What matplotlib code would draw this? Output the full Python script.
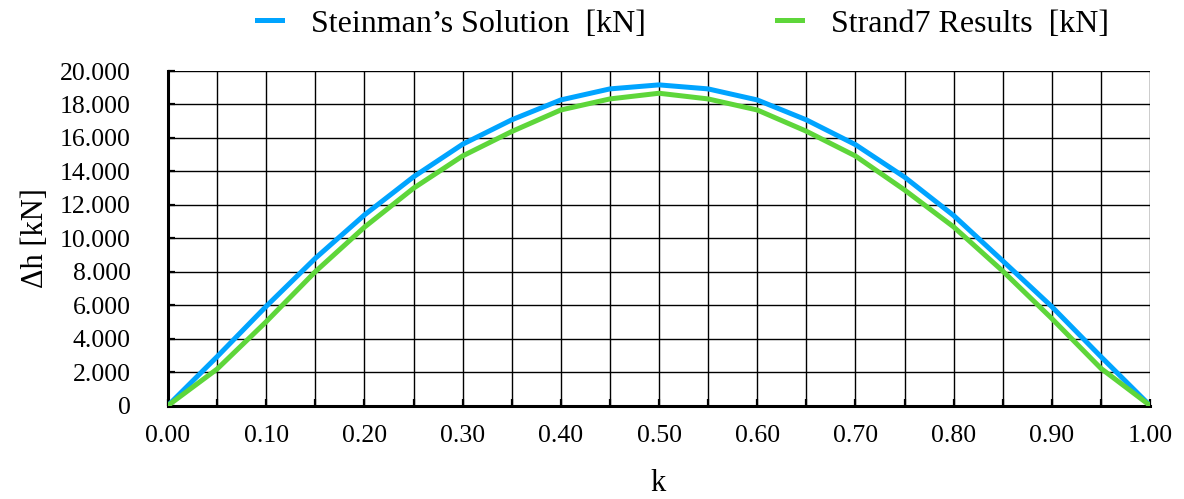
import matplotlib
matplotlib.use("Agg")
import matplotlib.pyplot as plt
from matplotlib.ticker import FuncFormatter, MultipleLocator

# Load parameter k and the horizontal force difference for both methods
k = [0.00, 0.05, 0.10, 0.15, 0.20, 0.25, 0.30, 0.35, 0.40, 0.45, 0.50,
     0.55, 0.60, 0.65, 0.70, 0.75, 0.80, 0.85, 0.90, 0.95, 1.00]
steinman = [0, 2920, 5930, 8800, 11390, 13670, 15620, 17080, 18270, 18930, 19170,
            18930, 18270, 17080, 15600, 13660, 11360, 8650, 5910, 2920, 0]
strand7 = [0, 2180, 5010, 8000, 10660, 12990, 14920, 16380, 17670, 18330, 18670,
           18330, 17670, 16400, 14920, 12890, 10680, 8040, 5200, 2220, 0]

series_labels = ["Steinman\u2019s Solution  [kN]", "Strand7 Results  [kN]"]
x_label = "k"
y_label = "\u0394h [kN]"

plt.rcParams["font.family"] = ["Liberation Serif", "DejaVu Serif"]

fig = plt.figure(figsize=(11.84, 4.99), dpi=100)
ax = fig.add_axes([168 / 1184, 1 - 405.5 / 499, 982 / 1184, 334.5 / 499])

ax.plot(k, steinman, color="#00A4FF", lw=3.6, solid_joinstyle="miter",
        label=series_labels[0], zorder=3)
ax.plot(k, strand7, color="#5ED63A", lw=3.6, solid_joinstyle="miter",
        label=series_labels[1], zorder=3)

ax.set_xlim(0, 1)
ax.set_ylim(0, 20000)
ax.xaxis.set_major_locator(MultipleLocator(0.1))
ax.xaxis.set_minor_locator(MultipleLocator(0.05))
ax.yaxis.set_major_locator(MultipleLocator(2000))
ax.xaxis.set_major_formatter(FuncFormatter(lambda v, p: f"{v:.2f}"))
ax.yaxis.set_major_formatter(
    FuncFormatter(lambda v, p: f"{v:,.0f}".replace(",", ".")))

ax.grid(True, which="both", color="black", lw=1.0)
ax.set_axisbelow(True)

for side in ("top", "right"):
    ax.spines[side].set_visible(False)
for side in ("left", "bottom"):
    ax.spines[side].set_linewidth(2.2)
    ax.spines[side].set_color("black")

ax.tick_params(axis="both", which="both", direction="in", length=5,
               width=1.6, color="black", labelsize=18.5)
ax.tick_params(axis="y", pad=27)
ax.tick_params(axis="x", pad=14)

ax.set_xlabel(x_label, fontsize=22)
ax.xaxis.set_label_coords(0.499, -0.232)
ax.xaxis.label.set_verticalalignment("center")
ax.set_ylabel(y_label, fontsize=22)
ax.yaxis.set_label_coords(-0.1354, 0.5)
ax.yaxis.label.set_verticalalignment("center")

fig.legend(loc="center", bbox_to_anchor=(683 / 1184, 1 - 24 / 499), ncol=2,
           frameon=False, fontsize=23, handlelength=0.8, handletextpad=0.9,
           columnspacing=4.1)

fig.savefig("out.png", dpi=100)
